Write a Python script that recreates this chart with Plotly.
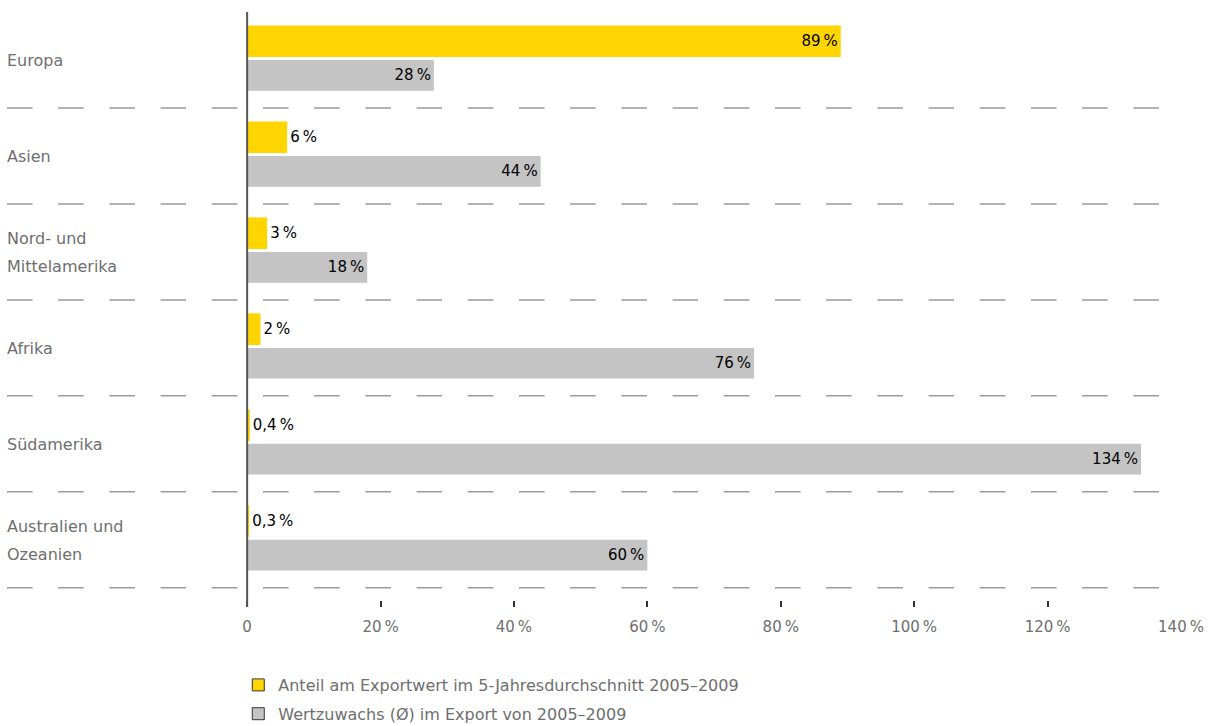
import plotly.graph_objects as go

# Regions (multi-line names split into lines)
region_lines = [
    ["Europa"],
    ["Asien"],
    ["Nord- und", "Mittelamerika"],
    ["Afrika"],
    ["Südamerika"],
    ["Australien und", "Ozeanien"],
]

# Share of export value, 5-year average 2005–2009 (%)
share_export = [89, 6, 3, 2, 0.4, 0.3]
# Growth in export value 2005–2009 (%)
growth_export = [28, 44, 18, 76, 134, 60]

tick_values = [0, 20, 40, 60, 80, 100, 120, 140]
tick_labels = ["0", "20\u202f%", "40\u202f%", "60\u202f%", "80\u202f%", "100\u202f%", "120\u202f%", "140\u202f%"]

legend_names = [
    "Anteil am Exportwert im 5-Jahresdurchschnitt 2005–2009",
    "Wertzuwachs (Ø) im Export von 2005–2009",
]

YELLOW = "#FFD500"
GREY = "#C4C4C4"
LABEL_GREY = "#6e6e6e"
FONT = "DejaVu Sans"


def pct(v):
    return f"{v:g}".replace(".", ",") + "\u202f%"


ypos = list(range(len(region_lines)))
X_MIN = -36  # room on the left for the region names

fig = go.Figure()

fig.add_trace(go.Bar(
    y=ypos, x=share_export, orientation="h",
    width=0.33, offset=-0.36,
    marker=dict(color=YELLOW, line=dict(width=0)),
    text=[pct(v) for v in share_export],
    textposition=["inside" if v >= 20 else "outside" for v in share_export],
    insidetextanchor="end", constraintext="none",
    textfont=dict(color="#000000", size=15, family=FONT),
    cliponaxis=False, showlegend=False, hoverinfo="skip",
))
fig.add_trace(go.Bar(
    y=ypos, x=growth_export, orientation="h",
    width=0.32, offset=0.0,
    marker=dict(color=GREY, line=dict(width=0)),
    text=[pct(v) for v in growth_export],
    textposition="inside",
    insidetextanchor="end", constraintext="none",
    textfont=dict(color="#000000", size=15, family=FONT),
    cliponaxis=False, showlegend=False, hoverinfo="skip",
))

# Legend entries with outlined swatches
for name, col, grp in zip(legend_names, [YELLOW, GREY], ["a", "b"]):
    fig.add_trace(go.Bar(
        x=[None], y=[None], orientation="h", name=name, legendgroup=grp,
        marker=dict(color=col, line=dict(color="#333333", width=1)),
    ))

# Dashed separators between regions
for i in ypos:
    fig.add_shape(type="line", xref="x", yref="y",
                  x0=X_MIN, x1=140.2, y0=i + 0.5, y1=i + 0.5,
                  line=dict(color="#9b9b9b", width=1.5, dash="25.6px,25.6px"),
                  layer="below")

# Vertical baseline at 0
fig.add_shape(type="line", xref="x", yref="paper", x0=0, x1=0, y0=0, y1=1,
              line=dict(color="#555555", width=2), layer="above")

# Region names
for i, lines in enumerate(region_lines):
    n = len(lines)
    for j, line in enumerate(lines):
        fig.add_annotation(
            x=X_MIN, y=i, xref="x", yref="y", xanchor="left", yanchor="middle",
            text=line, showarrow=False, xshift=-2,
            yshift=-((j - (n - 1) / 2) * 28) - 1,
            font=dict(color=LABEL_GREY, size=16, family=FONT),
        )

fig.update_layout(
    width=1211, height=726,
    margin=dict(l=7, r=26, t=12, b=119),
    paper_bgcolor="white", plot_bgcolor="white",
    barmode="overlay",
    font=dict(family=FONT, color=LABEL_GREY),
    xaxis=dict(
        range=[X_MIN, 140], tickvals=tick_values, ticktext=tick_labels,
        ticks="inside", ticklen=6, tickwidth=1.5, tickcolor="#333333",
        showgrid=False, zeroline=False, showline=False,
        tickfont=dict(size=15, color=LABEL_GREY, family=FONT),
        ticklabelstandoff=9,
    ),
    yaxis=dict(range=[5.7, -0.5], visible=False),
    legend=dict(
        xref="paper", yref="container",
        x=0.197, y=1 - 668 / 726, xanchor="left", yanchor="top",
        orientation="v", tracegroupgap=5,
        font=dict(size=16, color=LABEL_GREY, family=FONT),
        bgcolor="rgba(0,0,0,0)",
    ),
)

fig.write_html("out.html")
